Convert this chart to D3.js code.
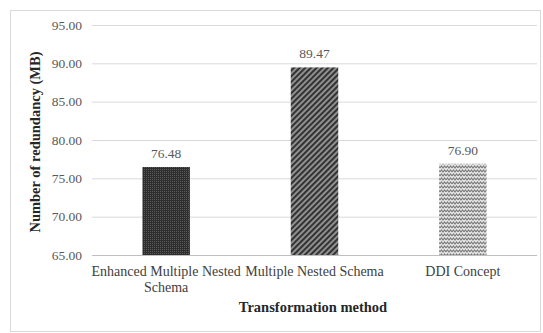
<!DOCTYPE html>
<html>
<head>
<meta charset="utf-8">
<script src="https://cdn.jsdelivr.net/npm/d3@7"></script>
<style>
  body { margin: 0; background: #fff; }
</style>
</head>
<body>
<div id="chart"></div>
<script>
// chart data
var categories = ["Enhanced Multiple Nested Schema", "Multiple Nested Schema", "DDI Concept"];
var values = [76.48, 89.47, 76.90];
var yTicks = [65, 70, 75, 80, 85, 90, 95];

var serif = "'Liberation Serif', 'Times New Roman', Times, serif";
var width = 543, height = 333;
var margin = {top: 25, right: 6, bottom: 78, left: 92};

var svg = d3.select("#chart").append("svg").attr("width", width).attr("height", height)
    .style("font-family", serif);

// outer frame
svg.append("rect").attr("x", 10.5).attr("y", 10.5).attr("width", 530).attr("height", 321)
    .attr("fill", "#fff").attr("stroke", "#d9d9d9");

// patterns for the bars
var defs = svg.append("defs");
var p1 = defs.append("pattern").attr("id", "dots").attr("width", 2).attr("height", 2)
    .attr("patternUnits", "userSpaceOnUse");
p1.append("rect").attr("width", 2).attr("height", 2).attr("fill", "#2e2e2e");
p1.append("rect").attr("width", 1).attr("height", 1).attr("fill", "#5a5a5a");

var p2 = defs.append("pattern").attr("id", "diag").attr("width", 4).attr("height", 4)
    .attr("patternUnits", "userSpaceOnUse").attr("patternTransform", "rotate(45)");
p2.append("rect").attr("width", 4).attr("height", 4).attr("fill", "#9a9a9a");
p2.append("rect").attr("width", 2.2).attr("height", 4).attr("fill", "#333");

var p3 = defs.append("pattern").attr("id", "wave").attr("width", 6).attr("height", 4)
    .attr("patternUnits", "userSpaceOnUse");
p3.append("rect").attr("width", 6).attr("height", 4).attr("fill", "#e6e6e6");
p3.append("path").attr("d", "M0,3 L1.5,1 L3,3 L4.5,1 L6,3").attr("fill", "none")
    .attr("stroke", "#7a7a7a").attr("stroke-width", 1.1);

var fills = ["url(#dots)", "url(#diag)", "url(#wave)"];

var innerW = width - margin.left - margin.right,
    innerH = 255 - margin.top;

var x = d3.scaleBand().domain(categories).range([0, innerW]).paddingInner(0.68).paddingOuter(0.34);
var y = d3.scaleLinear().domain([65, 95]).range([innerH, 0]);

var g = svg.append("g").attr("transform", "translate(" + margin.left + "," + margin.top + ")");

// gridlines
g.selectAll(".grid").data(yTicks).enter().append("line")
    .attr("x1", 0).attr("x2", innerW)
    .attr("y1", function(d) { return y(d) + 0.5; }).attr("y2", function(d) { return y(d) + 0.5; })
    .attr("stroke", function(d) { return d === 65 ? "#bfbfbf" : "#d9d9d9"; });

// y axis labels
var yAxis = g.append("g").call(d3.axisLeft(y).tickValues(yTicks).tickSize(0).tickPadding(10)
    .tickFormat(d3.format(".2f")));
yAxis.attr("font-family", null);
yAxis.select(".domain").remove();
yAxis.selectAll("text").style("font-size", "13.5px").attr("fill", "#595959")
    .style("font-family", serif);

// bars
g.selectAll(".bar").data(values).enter().append("rect")
    .attr("x", function(d, i) { return x(categories[i]); })
    .attr("y", function(d) { return y(d); })
    .attr("width", x.bandwidth())
    .attr("height", function(d) { return innerH - y(d); })
    .attr("fill", function(d, i) { return fills[i]; });

// value labels
g.selectAll(".val").data(values).enter().append("text")
    .attr("x", function(d, i) { return x(categories[i]) + x.bandwidth() / 2; })
    .attr("y", function(d) { return y(d) - 9; })
    .attr("text-anchor", "middle").style("font-size", "13.5px").style("font-family", serif)
    .attr("fill", "#595959")
    .text(function(d) { return d.toFixed(2); });

// category labels (first one wraps)
var catLines = [["Enhanced Multiple Nested", "Schema"], ["Multiple Nested Schema"], ["DDI Concept"]];
catLines.forEach(function(lines, i) {
    var t = g.append("text").attr("x", x(categories[i]) + x.bandwidth() / 2).attr("y", innerH + 21)
        .attr("text-anchor", "middle").style("font-size", "14px").style("font-family", serif)
        .attr("fill", "#404040");
    lines.forEach(function(l, j) {
        t.append("tspan").attr("x", x(categories[i]) + x.bandwidth() / 2).attr("dy", j === 0 ? 0 : 16).text(l);
    });
});

// axis titles
svg.append("text").attr("x", 313).attr("y", 312).attr("text-anchor", "middle")
    .style("font-size", "14.5px").style("font-weight", "bold").style("font-family", serif)
    .attr("fill", "#262626")
    .text("Transformation  method");

svg.append("text").attr("transform", "translate(40,142) rotate(-90)").attr("text-anchor", "middle")
    .style("font-size", "14.5px").style("font-weight", "bold").style("font-family", serif)
    .attr("fill", "#262626")
    .text("Number  of redundancy  (MB)");
</script>
</body>
</html>
